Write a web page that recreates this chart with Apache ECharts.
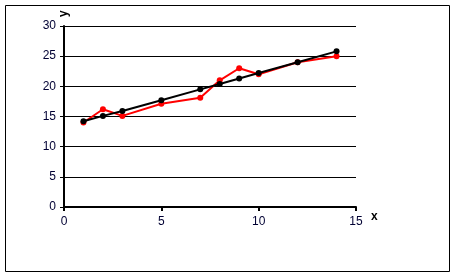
<!DOCTYPE html>
<html><head><meta charset="utf-8">
<script src="https://cdn.jsdelivr.net/npm/echarts@6/dist/echarts.min.js"></script>
<style>html,body{margin:0;padding:0;background:#fff}#c{width:456px;height:277px}</style>
</head><body><div id="c"></div>
<script>
var xValues = [1, 2, 3, 5, 7, 8, 9, 10, 12, 14];
var redValues = [14, 16.2, 15.1, 17.1, 18.1, 21, 23, 22, 24, 25];
var blackValues = [14.2, 15.1, 15.9, 17.7, 19.5, 20.4, 21.3, 22.2, 24.0, 25.8];
var yTicks = [0, 5, 10, 15, 20, 25, 30];
var xTicks = [0, 5, 10, 15];

function pairs(xs, ys){ return xs.map(function(x,i){ return [x, ys[i]]; }); }
var chart = echarts.init(document.getElementById('c'));
var labelColor = '#000033';
chart.setOption({
  animation: false,
  grid: {left: 64, right: 100, top: 26, bottom: 70},
  graphic: [{type:'rect', shape:{x:5.5, y:5.5, width:444, height:266}, style:{fill:'none', stroke:'#000', lineWidth:1}, z:-1}],
  xAxis: {
    type: 'value', min: xTicks[0], max: xTicks[xTicks.length-1], interval: 5,
    name: 'x', nameLocation: 'end', nameGap: 15,
    nameTextStyle: {fontFamily: 'Liberation Sans', fontSize: 12, fontWeight: 'bold', color: '#000', verticalAlign: 'top', padding: [4,0,0,0]},
    axisLine: {lineStyle: {color: '#000', width: 2}},
    axisTick: {show: true, length: 4, inside: false, lineStyle: {color: '#000', width: 2}},
    axisLabel: {fontFamily: 'Liberation Sans', fontSize: 12, color: labelColor, margin: 9},
    splitLine: {show: false}
  },
  yAxis: {
    type: 'value', min: yTicks[0], max: yTicks[yTicks.length-1], interval: 5,
    name: 'y', nameLocation: 'end', nameRotate: 90, nameGap: 9,
    nameTextStyle: {fontFamily: 'Liberation Sans', fontSize: 12, fontWeight: 'bold', color: '#000'},
    axisLine: {show: true, lineStyle: {color: '#000', width: 2}},
    axisTick: {show: true, length: 4, lineStyle: {color: '#000', width: 1}},
    axisLabel: {fontFamily: 'Liberation Sans', fontSize: 12, color: labelColor, margin: 8},
    splitLine: {show: true, lineStyle: {color: '#000', width: 1}}
  },
  series: [
    {type: 'line', data: pairs(xValues, redValues), symbol: 'circle', symbolSize: 6,
     lineStyle: {color: '#ff0000', width: 2}, itemStyle: {color: '#ff0000'}, z: 2},
    {type: 'line', data: pairs(xValues, blackValues), symbol: 'circle', symbolSize: 6,
     lineStyle: {color: '#000', width: 2}, itemStyle: {color: '#000'}, z: 3}
  ]
});
</script></body></html>
